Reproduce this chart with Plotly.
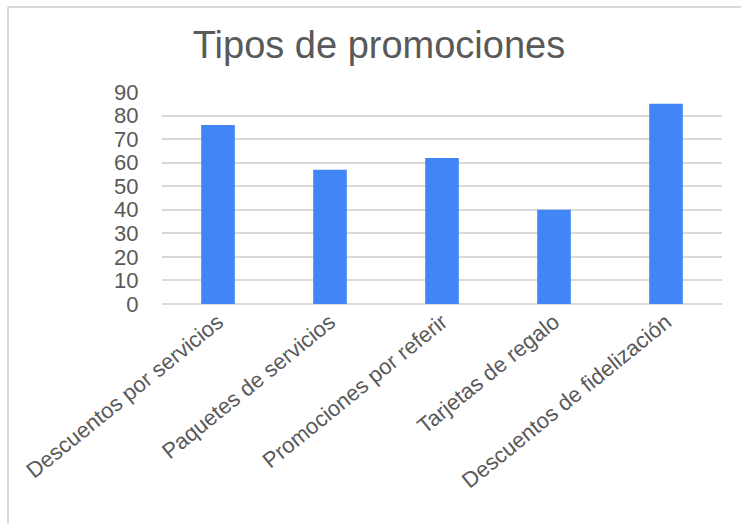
import plotly.graph_objects as go

# Promotion types and their counts
categories = [
    "Descuentos por servicios",
    "Paquetes de servicios",
    "Promociones por referir",
    "Tarjetas de regalo",
    "Descuentos de fidelización",
]
values = [76, 57, 62, 40, 85]
y_ticks = [0, 10, 20, 30, 40, 50, 60, 70, 80, 90]

W, H = 741, 524
ML, MR, MT, MB = 162, 19, 92, 220
plot_w = W - ML - MR
plot_h = H - MT - MB


def px_x(px):
    return (px - ML) / plot_w


def px_y(py):
    return (H - MB - py) / plot_h


fig = go.Figure(
    go.Bar(
        x=categories,
        y=values,
        marker=dict(color="#4285F4", line=dict(width=0)),
    )
)

grid_col = "#d9d9d9"
text_col = "#595959"

fig.update_layout(
    width=W,
    height=H,
    margin=dict(l=ML, r=MR, t=MT, b=MB, autoexpand=False),
    paper_bgcolor="white",
    plot_bgcolor="white",
    bargap=0.7,
    showlegend=False,
    font=dict(family="Liberation Sans, Arial, sans-serif", color=text_col),
    title=dict(
        text="Tipos de promociones",
        x=379 / W,
        xref="container",
        xanchor="center",
        y=1 - 45 / H,
        yanchor="middle",
        yref="container",
        font=dict(size=38, color=text_col),
    ),
    xaxis=dict(
        tickangle=-39,
        tickfont=dict(size=22, color=text_col),
        showgrid=False,
        showline=False,
        ticks="",
    ),
    yaxis=dict(
        range=[0, 90],
        tickvals=y_ticks,
        tickfont=dict(size=22, color=text_col),
        showgrid=True,
        gridcolor=grid_col,
        gridwidth=2,
        zeroline=True,
        zerolinecolor=grid_col,
        zerolinewidth=2,
        showline=False,
        ticks="outside",
        ticklen=18,
        tickcolor="rgba(0,0,0,0)",
    ),
    shapes=[
        dict(
            type="line", xref="paper", yref="paper",
            x0=px_x(8), x1=px_x(W + 2), y0=px_y(7), y1=px_y(7),
            line=dict(color=grid_col, width=2),
        ),
        dict(
            type="line", xref="paper", yref="paper",
            x0=px_x(8), x1=px_x(8), y0=px_y(7), y1=px_y(H + 2),
            line=dict(color=grid_col, width=2),
        ),
    ],
)

fig.write_html("out.html")
